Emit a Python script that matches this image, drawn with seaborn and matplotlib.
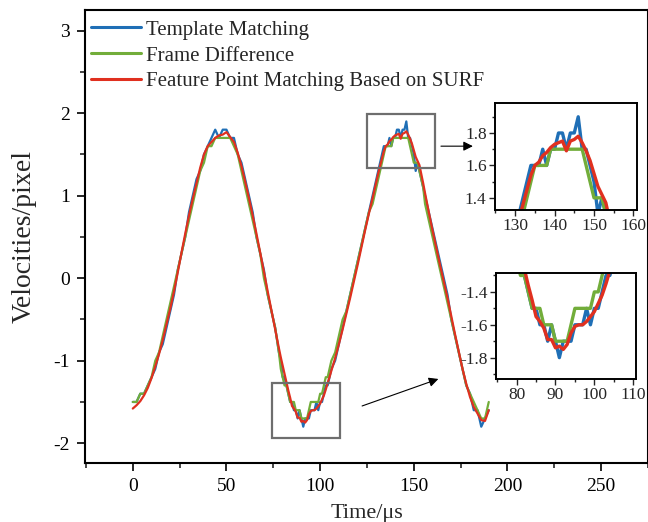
import pandas as pd
import matplotlib
matplotlib.use("Agg")
import matplotlib.pyplot as plt
from matplotlib.patches import Rectangle
from matplotlib.ticker import MultipleLocator
import seaborn as sns

# sample times (us): 2 us apart, 1 us apart inside the two zoomed windows
time_us = (list(range(0, 79, 2)) + list(range(79, 107)) + list(range(108, 129, 2))
           + list(range(129, 156)) + list(range(156, 191, 2)))

template = [
    # 0..78 step 2
    -1.5, -1.5, -1.4, -1.4, -1.3, -1.2, -1.1, -0.9, -0.8, -0.6,
    -0.4, -0.2, 0.1, 0.3, 0.5, 0.8, 1.0, 1.2, 1.3, 1.5,
    1.6, 1.7, 1.8, 1.7, 1.8, 1.8, 1.7, 1.7, 1.5, 1.4,
    1.2, 1.0, 0.8, 0.5, 0.3, 0.1, -0.2, -0.4, -0.6, -0.9,
    # 79..106
    -1.0, -1.2, -1.2, -1.3, -1.4, -1.5, -1.5, -1.6, -1.6, -1.7,
    -1.6, -1.7, -1.8, -1.7, -1.7, -1.7, -1.6, -1.6, -1.6, -1.5,
    -1.6, -1.5, -1.5, -1.4, -1.3, -1.3, -1.2, -1.1,
    # 108..128 step 2
    -1.0, -0.8, -0.6, -0.4, -0.2, 0.0, 0.2, 0.4, 0.6, 0.8, 1.0,
    # 129..155
    1.1, 1.2, 1.3, 1.4, 1.5, 1.6, 1.6, 1.6, 1.7, 1.6,
    1.7, 1.7, 1.8, 1.8, 1.7, 1.8, 1.8, 1.9, 1.7, 1.7,
    1.6, 1.5, 1.3, 1.4, 1.3, 1.2, 1.1,
    # 156..190 step 2
    1.0, 0.8, 0.6, 0.4, 0.2, 0.0, -0.2, -0.5, -0.7, -0.9,
    -1.1, -1.3, -1.4, -1.6, -1.6, -1.8, -1.7, -1.6,
]

frame_diff = [
    -1.5, -1.5, -1.4, -1.4, -1.3, -1.2, -1.0, -0.9, -0.7, -0.5,
    -0.3, -0.1, 0.1, 0.3, 0.5, 0.7, 0.9, 1.1, 1.3, 1.4,
    1.6, 1.6, 1.7, 1.7, 1.7, 1.7, 1.7, 1.6, 1.5, 1.3,
    1.1, 0.9, 0.7, 0.5, 0.3, 0.0, -0.2, -0.4, -0.6, -0.9,
    -1.1, -1.2, -1.3, -1.3, -1.4, -1.5, -1.5, -1.5, -1.6, -1.6,
    -1.6, -1.7, -1.7, -1.7, -1.7, -1.6, -1.5, -1.5, -1.5, -1.5,
    -1.5, -1.4, -1.4, -1.3, -1.2, -1.2, -1.1, -1.0,
    -0.9, -0.7, -0.5, -0.4, -0.2, 0.0, 0.2, 0.4, 0.6, 0.8, 0.9,
    1.0, 1.1, 1.2, 1.3, 1.4, 1.5, 1.6, 1.6, 1.6, 1.6,
    1.7, 1.7, 1.7, 1.7, 1.7, 1.7, 1.7, 1.7, 1.7, 1.6,
    1.5, 1.4, 1.4, 1.4, 1.3, 1.2, 1.1,
    0.9, 0.7, 0.5, 0.3, 0.1, -0.1, -0.3, -0.5, -0.7, -0.9,
    -1.1, -1.3, -1.4, -1.5, -1.6, -1.7, -1.7, -1.5,
]

surf = [
    -1.58, -1.54, -1.49, -1.42, -1.33, -1.21, -1.07, -0.92, -0.75, -0.56,
    -0.37, -0.16, 0.07, 0.31, 0.54, 0.76, 0.96, 1.15, 1.34, 1.50,
    1.60, 1.65, 1.70, 1.73, 1.74, 1.77, 1.71, 1.65, 1.52, 1.36,
    1.17, 0.97, 0.76, 0.54, 0.31, 0.08, -0.16, -0.39, -0.62, -0.85,
    -0.96, -1.06, -1.16, -1.26, -1.36, -1.45, -1.55, -1.58, -1.62, -1.69,
    -1.69, -1.74, -1.73, -1.75, -1.72, -1.65, -1.61, -1.60, -1.60, -1.58,
    -1.55, -1.52, -1.47, -1.42, -1.35, -1.27, -1.20, -1.12,
    -0.97, -0.80, -0.62, -0.43, -0.24, -0.04, 0.16, 0.37, 0.58, 0.78, 0.97,
    1.07, 1.17, 1.27, 1.36, 1.45, 1.54, 1.60, 1.62, 1.66, 1.68,
    1.71, 1.73, 1.74, 1.75, 1.69, 1.75, 1.76, 1.78, 1.74, 1.69,
    1.63, 1.55, 1.47, 1.42, 1.37, 1.26, 1.15,
    1.03, 0.80, 0.58, 0.37, 0.16, -0.04, -0.24, -0.46, -0.68, -0.89,
    -1.10, -1.28, -1.44, -1.56, -1.64, -1.72, -1.73, -1.60,
]

methods = ["Template Matching", "Frame Difference", "Feature Point Matching Based on SURF"]
colors = ["#1f6fb6", "#72ad3a", "#e0301f"]

df = pd.DataFrame({
    "Time": time_us * 3,
    "Velocity": template + frame_diff + surf,
    "Method": [methods[0]] * len(time_us) + [methods[1]] * len(time_us) + [methods[2]] * len(time_us),
})

sns.set_style("ticks")
plt.rcParams["font.family"] = ["Liberation Serif", "DejaVu Serif"]
plt.rcParams["axes.unicode_minus"] = False

fig = plt.figure(figsize=(6.48, 5.22), dpi=100)
ax = fig.add_axes([0.1312, 0.1130, 0.8688, 0.8678])

sns.lineplot(data=df, x="Time", y="Velocity", hue="Method", hue_order=methods,
             palette=colors, estimator=None, linewidth=1.6, ax=ax)

ax.set_xlim(-25.5, 275)
ax.set_ylim(-2.24, 3.25)
ax.xaxis.set_major_locator(MultipleLocator(50))
ax.xaxis.set_minor_locator(MultipleLocator(25))
ax.yaxis.set_major_locator(MultipleLocator(1))
ax.yaxis.set_minor_locator(MultipleLocator(0.5))
ax.tick_params(which="major", direction="out", length=6, width=1.2, labelsize=14,
               colors="black", pad=5)
ax.tick_params(which="minor", direction="out", length=3.5, width=1.2)
for s in ax.spines.values():
    s.set_linewidth(1.5)
    s.set_color("black")
ax.set_xlabel("Time/μs", fontsize=16, labelpad=6)
ax.set_ylabel("Velocities/pixel", fontsize=20, labelpad=12)

leg = ax.legend(loc="upper left", bbox_to_anchor=(-0.004, 0.996), frameon=False, fontsize=15,
                handlelength=2.4, handletextpad=0.22, labelspacing=0.3,
                borderaxespad=0.1, borderpad=0.3)
for line in leg.get_lines():
    line.set_linewidth(2.2)

# zoom windows on the main axes
ax.add_patch(Rectangle((125.2, 1.33), 36.0, 0.66, fill=False, ec="#6e6e6e", lw=1.6, zorder=5))
ax.add_patch(Rectangle((74.5, -1.94), 36.3, 0.67, fill=False, ec="#6e6e6e", lw=1.6, zorder=5))

ax.annotate("", xy=(183, 1.60), xytext=(163, 1.60),
            arrowprops=dict(arrowstyle="-|>", color="black", lw=0.8, mutation_scale=14))
ax.annotate("", xy=(164.5, -1.21), xytext=(121, -1.56),
            arrowprops=dict(arrowstyle="-|>", color="black", lw=0.8, mutation_scale=14))

# insets
insets = [
    ([0.7639, 0.5977, 0.2191, 0.2050], (124.9, 160.9), (1.325, 1.985), 0.2, 0.1),
    ([0.7654, 0.2739, 0.2160, 0.2031], (74.7, 110.7), (-1.93, -1.285), 0.2, 0.1),
]
for pos, xl, yl, ymaj, ymin in insets:
    ia = fig.add_axes(pos)
    sns.lineplot(data=df, x="Time", y="Velocity", hue="Method", hue_order=methods,
                 palette=colors, estimator=None, linewidth=2.4, legend=False, ax=ia)
    ia.set_xlim(*xl)
    ia.set_ylim(*yl)
    ia.xaxis.set_major_locator(MultipleLocator(10))
    ia.xaxis.set_minor_locator(MultipleLocator(5))
    ia.yaxis.set_major_locator(MultipleLocator(ymaj))
    ia.yaxis.set_minor_locator(MultipleLocator(ymin))
    ia.tick_params(which="major", direction="out", length=4, width=1.0, labelsize=12.5, pad=2)
    ia.tick_params(which="minor", direction="out", length=2.5, width=1.0)
    ia.set_xlabel("")
    ia.set_ylabel("")
    for s in ia.spines.values():
        s.set_linewidth(1.4)
        s.set_color("black")

fig.savefig("out.png", dpi=100)
